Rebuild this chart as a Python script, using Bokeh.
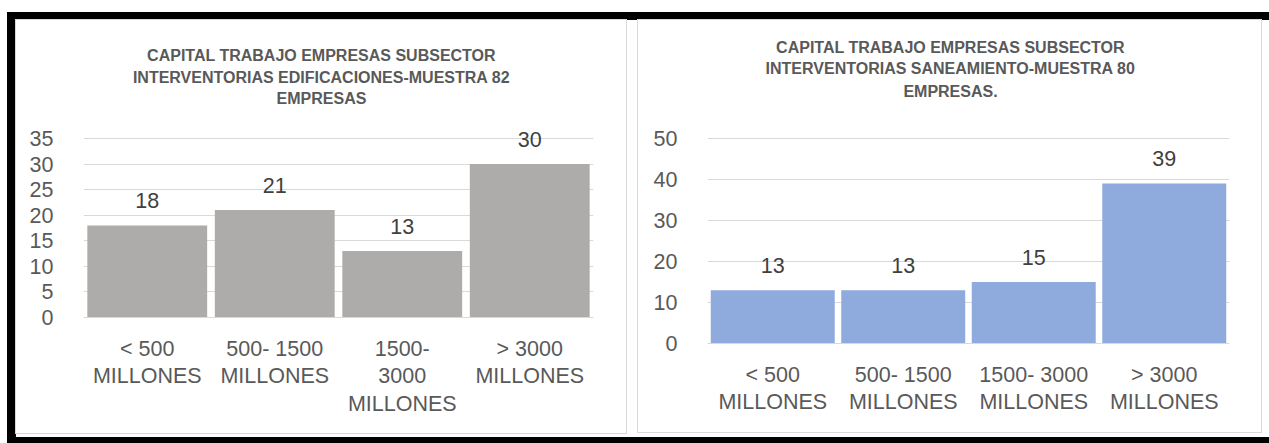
from bokeh.plotting import figure
from bokeh.models import ColumnDataSource, LabelSet, Label, Spacer, FactorRange, Range1d, FixedTicker
from bokeh.layouts import row, column
from bokeh.core.properties import value
from bokeh.embed import file_html
from bokeh.resources import INLINE

# ---- data ----
categories_edif = ["< 500\nMILLONES", "500- 1500\nMILLONES", "1500-\n3000\nMILLONES", "> 3000\nMILLONES"]
values_edif = [18, 21, 13, 30]
ticks_edif = [0, 5, 10, 15, 20, 25, 30, 35]
title_edif = ["CAPITAL TRABAJO EMPRESAS SUBSECTOR", "INTERVENTORIAS EDIFICACIONES-MUESTRA 82", "EMPRESAS"]

categories_san = ["< 500\nMILLONES", "500- 1500\nMILLONES", "1500- 3000\nMILLONES", "> 3000\nMILLONES"]
values_san = [13, 13, 15, 39]
ticks_san = [0, 10, 20, 30, 40, 50]
title_san = ["CAPITAL TRABAJO EMPRESAS SUBSECTOR", "INTERVENTORIAS SANEAMIENTO-MUESTRA 80", "EMPRESAS."]

FONT = "Liberation Sans"
TXT = "#595959"
GRID = "#d9d9d9"


def make_chart(cats, vals, ticks, color, title_lines, w, h, bl, br, frame_bottom, grid_top,
               bar_w, title_x, title_ys):
    # frame spans from figure top to frame_bottom; grid_top is where the top tick sits
    y_end = ticks[-1] * frame_bottom / (frame_bottom - grid_top)
    p = figure(x_range=FactorRange(factors=cats, range_padding=0),
               y_range=Range1d(0, y_end),
               width=w, height=h, output_backend="svg", toolbar_location=None,
               title=None,
               min_border_left=bl, min_border_right=br, min_border_top=0,
               min_border_bottom=h - frame_bottom,
               background_fill_color="white", border_fill_color="white",
               outline_line_color=None,
               styles={"box-shadow": "0 0 0 1px #d9d9d9"})
    src = ColumnDataSource(dict(cat=cats, val=vals, lab=[str(v) for v in vals]))
    p.vbar(x="cat", top="val", width=bar_w, source=src, fill_color=color, line_color=None)
    p.add_layout(LabelSet(x="cat", y="val", text="lab", source=src, y_offset=25,
                          text_align="center", text_baseline="middle",
                          text_font=value(FONT), text_font_size=value("21.5px"),
                          text_color="#404040"))
    for line, ty in zip(title_lines, title_ys):
        p.add_layout(Label(x=title_x, y=frame_bottom - ty, x_units="screen", y_units="screen",
                           text=line, text_align="center", text_baseline="middle",
                           text_font=FONT, text_font_size="16px", text_font_style="bold",
                           text_color=TXT))
    p.yaxis.ticker = FixedTicker(ticks=ticks)
    p.yaxis.axis_line_color = None
    p.yaxis.major_tick_line_color = None
    p.yaxis.minor_tick_line_color = None
    p.yaxis.major_label_standoff = 24
    p.yaxis.major_label_text_font = FONT
    p.yaxis.major_label_text_font_size = "21.5px"
    p.yaxis.major_label_text_color = TXT
    p.xaxis.axis_line_color = GRID
    p.xaxis.major_tick_line_color = None
    p.xaxis.minor_tick_line_color = None
    p.xaxis.major_label_standoff = 13
    p.xaxis.major_label_text_font = FONT
    p.xaxis.major_label_text_font_size = "21.5px"
    p.xaxis.major_label_text_color = TXT
    p.xaxis.major_label_text_line_height = 1.16
    p.xgrid.grid_line_color = None
    p.ygrid.grid_line_color = GRID
    p.ygrid.ticker = FixedTicker(ticks=ticks)
    return p


left = make_chart(categories_edif, values_edif, ticks_edif, "#AEABAB", title_edif,
                  610, 413, 67, 33, 297, 118, 0.94, 238, [35, 57, 78])
right = make_chart(categories_san, values_san, ticks_san, "#8FAADC", title_san,
                   623, 412, 69, 32, 323, 118, 0.95, 243, [27, 48, 71])

frame_shadows = ", ".join([
    "8px 0 0 0 white",
    "-9px -8px 0 0 black",
    "-9px 6px 0 0 black",
    "8px -8px 0 0 black",
    "8px 6px 0 0 black",
])
panels = row(column(left), Spacer(width=12, height=10), column(right),
             width=1245, height=417, margin=(8, 0, 0, 9),
             styles={"background-color": "white", "box-shadow": frame_shadows})

layout = column(panels, width=1254, height=425, margin=(12, 0, 0, 7))

open("out.html", "w").write(file_html(layout, INLINE))
